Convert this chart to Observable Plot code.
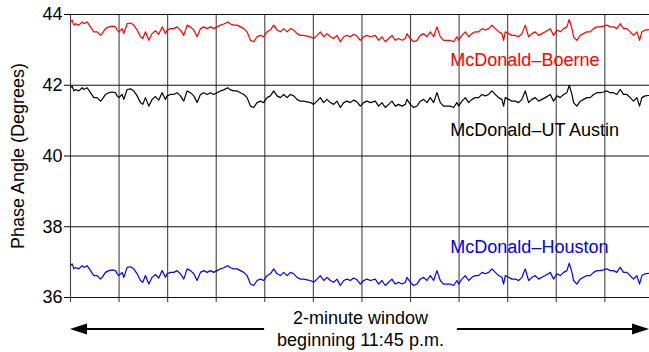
<!DOCTYPE html>
<html><head><meta charset="utf-8">
<script src="https://cdn.jsdelivr.net/npm/d3@7"></script>
<script src="https://cdn.jsdelivr.net/npm/@observablehq/plot@0.6"></script>
<style>
html,body{margin:0;padding:0;background:#fff;}
#chart{position:relative;width:649px;height:352px;overflow:hidden;font-family:"Liberation Sans",Arial,sans-serif;}
#chart svg{display:block;}
</style></head><body><div id="chart"></div>
<script>
const seconds = [0,0.34,0.69,1.03,1.71,2.4,2.74,3.43,4.12,4.8,5.49,6.17,6.52,7.2,7.89,8.57,9.26,9.6,9.95,10.63,10.97,11.66,12.35,13.03,13.72,14.4,14.88,15.43,16.12,16.8,17.49,18.18,18.86,19.55,19.89,20.58,21.26,21.95,22.63,23.32,24.01,24.69,25.38,26.06,26.75,27.43,28.12,28.81,29.49,30.18,30.86,31.55,32.37,32.92,33.61,34.29,34.98,35.67,36.35,37.04,37.72,38.41,39.09,39.78,
40.46,41.15,41.83,42.52,43.2,43.89,44.58,45.26,45.95,46.63,47.32,48.0,48.69,49.38,50.06,50.75,51.43,52.12,52.81,53.49,54.18,54.86,55.55,56.24,56.92,57.61,58.29,58.98,59.67,60.35,61.04,61.72,62.75,63.44,64.12,64.81,65.5,66.18,66.87,67.55,68.24,68.93,69.27,69.95,70.64,71.33,72.01,72.7,73.38,74.07,74.76,75.44,76.13,76.81,77.5,78.18,78.87,79.56,
79.9,80.59,81.28,81.96,82.65,83.33,84.02,84.71,85.39,86.08,86.76,87.45,88.14,88.82,89.16,89.51,90.19,90.88,91.57,92.25,92.94,93.62,94.31,95.0,95.68,96.37,97.05,97.74,98.77,99.45,100.14,100.83,101.51,102.2,102.68,103.23,103.57,104.25,104.94,105.63,106.31,107.0,107.68,108.37,109.05,109.74,110.43,111.11,111.8,112.48,113.17,113.86,114.54,115.23,115.91,116.6,117.15,117.63,118.31,119.0];

const boerne = [43.79,43.84,43.70,43.74,43.70,43.79,43.74,43.79,43.65,43.51,
43.51,43.41,43.46,43.60,43.65,43.67,43.65,43.56,43.51,43.60,
43.46,43.74,43.76,43.70,43.56,43.37,43.32,43.51,43.27,43.46,
43.54,43.44,43.65,43.46,43.56,43.60,43.60,43.65,43.56,43.41,
43.70,43.65,43.56,43.37,43.60,43.65,43.60,43.65,43.60,43.65,
43.70,43.73,43.79,43.73,43.70,43.70,43.65,43.60,43.51,43.27,
43.23,43.37,43.41,43.37,
43.51,43.56,43.70,43.56,43.51,43.60,43.51,43.60,43.56,43.46,
43.41,43.41,43.39,43.37,43.32,43.41,43.51,43.37,43.46,43.37,
43.32,43.41,43.23,43.37,43.41,43.37,43.44,43.39,43.27,43.37,
43.41,43.37,43.41,43.27,43.37,43.23,43.32,43.41,43.27,43.32,
43.27,43.32,43.46,43.32,43.23,43.27,43.41,43.46,43.37,43.51,
43.37,43.65,43.37,43.27,43.27,43.27,43.23,43.37,
43.27,43.41,43.51,43.37,43.46,43.51,43.51,43.60,43.56,43.60,
43.70,43.60,43.51,43.46,43.27,43.51,43.46,43.41,43.41,43.37,
43.46,43.70,43.37,43.46,43.51,43.41,43.46,43.51,43.60,43.41,
43.56,43.51,43.60,43.65,43.86,43.60,43.37,43.27,43.41,43.46,
43.51,43.51,43.60,43.65,43.65,43.67,43.70,43.65,43.65,43.60,
43.74,43.60,43.60,43.51,43.41,43.51,43.27,43.51,43.56,43.57];

const utAustin = [41.93,41.98,41.84,41.88,41.84,41.93,41.88,41.93,41.79,41.65,
41.65,41.55,41.60,41.74,41.79,41.81,41.79,41.70,41.65,41.74,
41.60,41.88,41.90,41.84,41.70,41.51,41.46,41.65,41.41,41.60,
41.68,41.58,41.79,41.60,41.70,41.74,41.74,41.79,41.70,41.55,
41.84,41.79,41.70,41.51,41.74,41.79,41.74,41.79,41.74,41.79,
41.84,41.87,41.93,41.87,41.84,41.84,41.79,41.74,41.65,41.41,
41.37,41.51,41.55,41.51,
41.65,41.70,41.84,41.70,41.65,41.74,41.65,41.74,41.70,41.60,
41.55,41.55,41.53,41.51,41.46,41.55,41.65,41.51,41.60,41.51,
41.46,41.55,41.37,41.51,41.55,41.51,41.58,41.53,41.41,41.51,
41.55,41.51,41.55,41.41,41.51,41.37,41.46,41.55,41.41,41.46,
41.41,41.46,41.60,41.46,41.37,41.41,41.55,41.60,41.51,41.65,
41.51,41.79,41.51,41.41,41.41,41.41,41.37,41.51,
41.41,41.55,41.65,41.51,41.60,41.65,41.65,41.74,41.70,41.74,
41.84,41.74,41.65,41.60,41.41,41.65,41.60,41.55,41.55,41.51,
41.60,41.84,41.51,41.60,41.65,41.55,41.60,41.65,41.74,41.55,
41.70,41.65,41.74,41.79,42.00,41.74,41.51,41.41,41.55,41.60,
41.65,41.65,41.74,41.79,41.79,41.81,41.84,41.79,41.79,41.74,
41.88,41.74,41.74,41.65,41.55,41.65,41.41,41.65,41.70,41.71];

const houston = [36.90,36.95,36.81,36.85,36.81,36.90,36.85,36.90,36.76,36.62,
36.62,36.52,36.57,36.71,36.76,36.78,36.76,36.67,36.62,36.71,
36.57,36.85,36.87,36.81,36.67,36.48,36.43,36.62,36.38,36.57,
36.65,36.55,36.76,36.57,36.67,36.71,36.71,36.76,36.67,36.52,
36.81,36.76,36.67,36.48,36.71,36.76,36.71,36.76,36.71,36.76,
36.81,36.84,36.90,36.84,36.81,36.81,36.76,36.71,36.62,36.38,
36.34,36.48,36.52,36.48,
36.62,36.67,36.81,36.67,36.62,36.71,36.62,36.71,36.67,36.57,
36.52,36.52,36.50,36.48,36.43,36.52,36.62,36.48,36.57,36.48,
36.43,36.52,36.34,36.48,36.52,36.48,36.55,36.50,36.38,36.48,
36.52,36.48,36.52,36.38,36.48,36.34,36.43,36.52,36.38,36.43,
36.38,36.43,36.57,36.43,36.34,36.38,36.52,36.57,36.48,36.62,
36.48,36.76,36.48,36.38,36.38,36.38,36.34,36.48,
36.38,36.52,36.62,36.48,36.57,36.62,36.62,36.71,36.67,36.71,
36.81,36.71,36.62,36.57,36.38,36.62,36.57,36.52,36.52,36.48,
36.57,36.81,36.48,36.57,36.62,36.52,36.57,36.62,36.71,36.52,
36.67,36.62,36.71,36.76,36.97,36.71,36.48,36.38,36.52,36.57,
36.62,36.62,36.71,36.76,36.76,36.78,36.81,36.76,36.76,36.71,
36.85,36.71,36.71,36.62,36.52,36.62,36.38,36.62,36.67,36.68];

const yTicks = [36, 38, 40, 42, 44];
const xGrid = [0, 10, 20, 30, 40, 50, 60, 70, 80, 90, 100, 110];
const seriesNames = ["McDonald–Boerne", "McDonald–UT Austin", "McDonald–Houston"];
const seriesColors = ["#ff0000", "#000000", "#0000ff"];
const labelX = [78.2, 78.2, 78.2];
const labelY = [42.72, 40.73, 37.42];
const axisTitle = "Phase Angle (Degrees)";
const captionLines = ["2-minute window", "beginning 11:45 p.m."];

const rows = [];
[boerne, utAustin, houston].forEach((vals, i) =>
  vals.forEach((v, j) => rows.push({t: seconds[j], v, s: seriesNames[i]})));

const FONT = '"Liberation Sans", Arial, sans-serif';

const plot = Plot.plot({
  width: 649, height: 305,
  marginLeft: 70, marginRight: 0, marginTop: 14, marginBottom: 8,
  style: {fontFamily: FONT, fontSize: "18px", color: "#000", background: "#fff", overflow: "visible"},
  x: {domain: [0, 119.2], axis: null},
  y: {domain: [36, 44], axis: null},
  color: {domain: seriesNames, range: seriesColors},
  marks: [
    Plot.ruleX(xGrid, {stroke: "#444", strokeWidth: 1.1, insetBottom: -5}),
    Plot.ruleY(yTicks, {stroke: "#111", strokeWidth: 1}),
    Plot.axisY({ticks: yTicks, tickSize: 6, tickPadding: 2, label: null, fontSize: 18, tickFormat: d => String(d)}),
    Plot.line(rows, {x: "t", y: "v", z: "s", stroke: "s", strokeWidth: 1.2}),
    Plot.text(seriesNames, {x: (d, i) => labelX[i], y: (d, i) => labelY[i], text: d => d, fill: d => d,
      textAnchor: "start", fontSize: 18}),
    Plot.text([axisTitle], {frameAnchor: "left", textAnchor: "middle", dx: -52, rotate: -90, text: d => d, fontSize: 18, fill: "#000"})
  ]
});
document.getElementById("chart").appendChild(plot);

// caption with double-headed arrow below the chart
const xs = plot.scale("x");
const [r0, r1] = xs.range;
const capH = 352 - 305;
const cap = d3.select("#chart").append("svg")
  .attr("width", 649).attr("height", capH)
  .style("font-family", FONT).style("font-size", "18px");
const cx = (r0 + r1) / 2 + 1;
const ay = 24;
const t1 = cap.append("text").attr("x", cx).attr("y", 18.5).attr("text-anchor", "middle").text(captionLines[0]);
const t2 = cap.append("text").attr("x", cx).attr("y", 41).attr("text-anchor", "middle").text(captionLines[1]);
const w = Math.max(t1.node().getComputedTextLength(), t2.node().getComputedTextLength());
const gap = w / 2 + 13;
const headL = 17, headH = 5.5;
cap.append("line").attr("x1", r0 + headL - 2).attr("x2", cx - gap).attr("y1", ay).attr("y2", ay)
  .attr("stroke", "#000").attr("stroke-width", 2);
cap.append("line").attr("x1", cx + gap).attr("x2", r1 - headL + 2).attr("y1", ay).attr("y2", ay)
  .attr("stroke", "#000").attr("stroke-width", 2);
cap.append("path").attr("d", `M${r0},${ay}L${r0 + headL},${ay - headH}L${r0 + headL},${ay + headH}Z`).attr("fill", "#000");
cap.append("path").attr("d", `M${r1},${ay}L${r1 - headL},${ay - headH}L${r1 - headL},${ay + headH}Z`).attr("fill", "#000");
</script>
</body></html>
